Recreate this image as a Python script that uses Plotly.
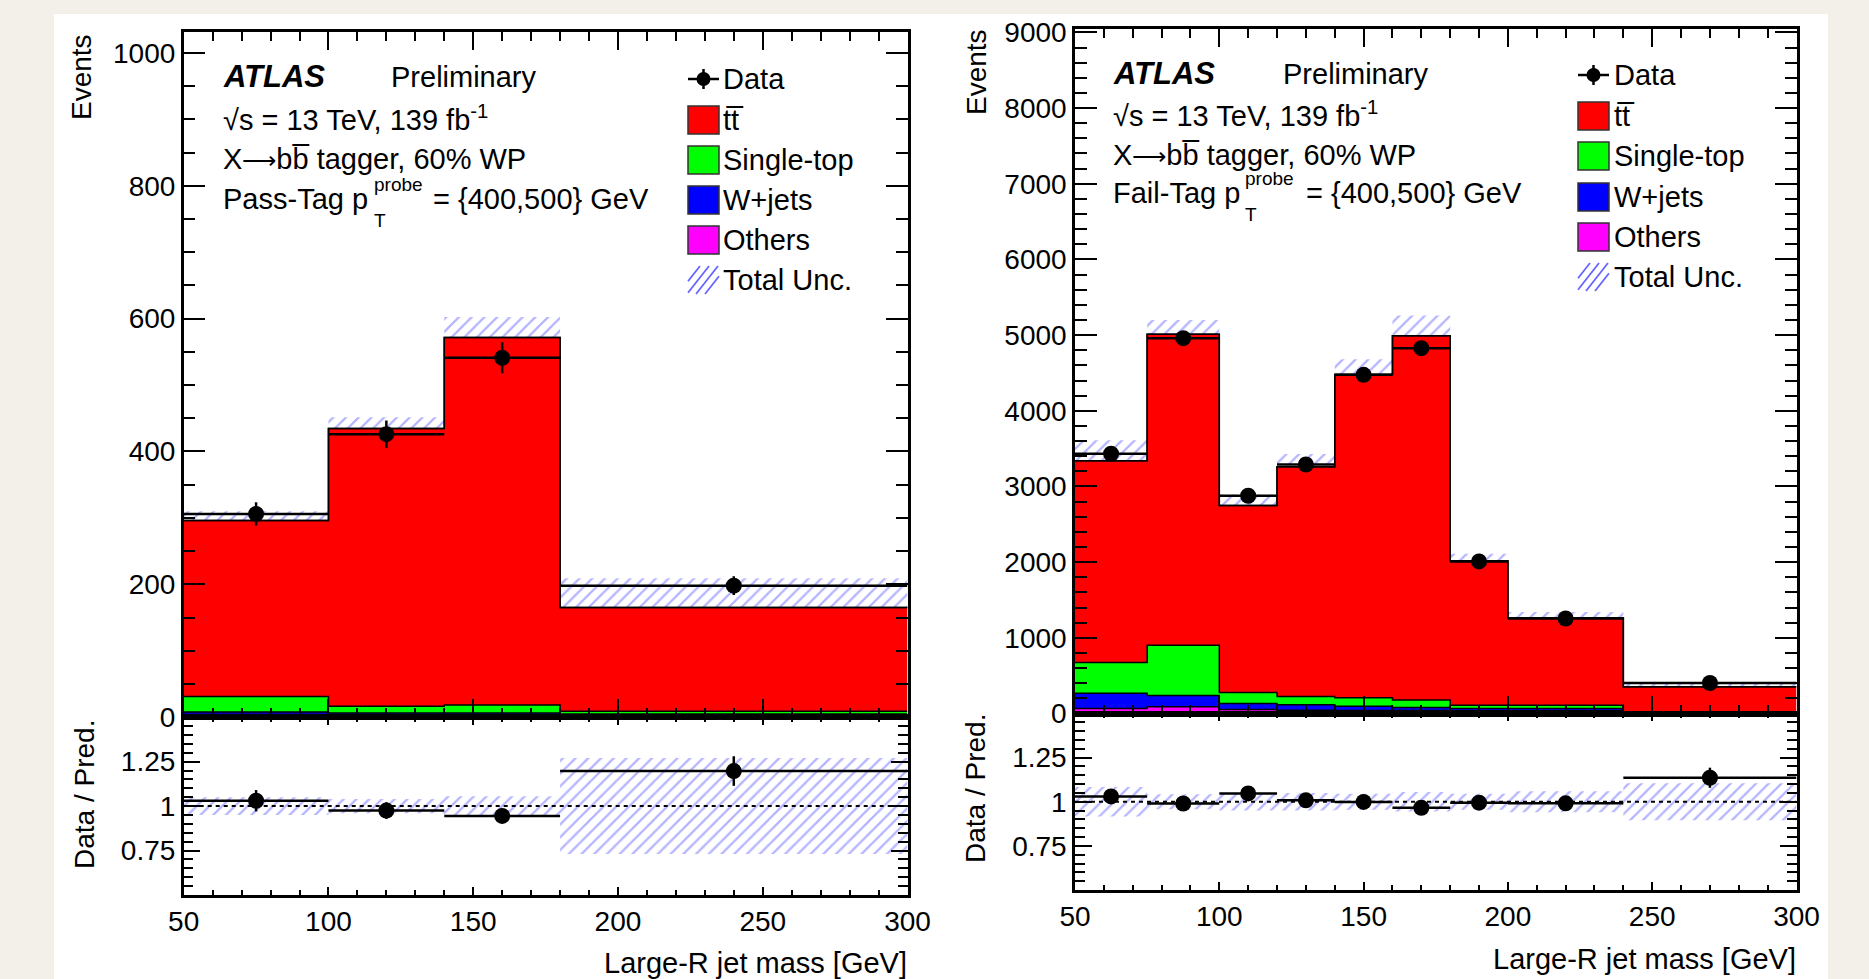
import numpy as np
import plotly.graph_objects as go

W, H = 1869, 979
FONT = "Liberation Sans, Arial, Helvetica, sans-serif"

# ---------------- Pass-Tag (left) ----------------
pass_edges = [50, 100, 140, 180, 300]
pass_ttbar = [265, 418, 553, 156]
pass_single = [23, 10, 12, 4]
pass_wjets = [4, 3.5, 3.5, 2]
pass_others = [4, 3, 3, 3]
pass_unc = [14, 17, 31, 44]
pass_data = [306, 426, 541, 198]
pass_data_err = [17.5, 20.6, 23.3, 14.1]
pass_ratio = [1.03, 0.975, 0.945, 1.197]
pass_ratio_err = [0.06, 0.047, 0.041, 0.083]
pass_ratio_unc = [0.05, 0.04, 0.055, 0.27]

# ---------------- Fail-Tag (right) ----------------
fail_edges = [50, 75, 100, 120, 140, 160, 180, 200, 240, 300]
fail_ttbar = [2666, 4107, 2473, 3035, 4273, 4810, 1910, 1155, 342]
fail_single = [405, 665, 145, 111, 110, 101, 44, 44, 4]
fail_wjets = [203, 150, 79, 70, 57, 39, 31, 31, 4]
fail_others = [66, 88, 53, 44, 40, 40, 35, 35, 5]
fail_unc = [270, 190, 143, 170, 200, 270, 90, 75, 38]
fail_data = [3432, 4960, 2877, 3290, 4475, 4827, 2010, 1255, 403]
fail_data_err = [58.6, 70.4, 53.6, 57.4, 66.9, 69.5, 44.8, 35.4, 20.1]
fail_ratio = [1.03, 0.99, 1.047, 1.008, 0.999, 0.966, 0.995, 0.991, 1.136]
fail_ratio_err = [0.018, 0.014, 0.02, 0.018, 0.015, 0.014, 0.022, 0.028, 0.057]
fail_ratio_unc = [0.083, 0.042, 0.05, 0.05, 0.045, 0.055, 0.045, 0.06, 0.105]

process_names = ["Others", "W+jets", "Single-top", "tt\u0305"]
process_colors = ["#ff00ff", "#0000ff", "#00ff00", "#ff0000"]
HATCH = "rgba(85,85,255,0.9)"
BG = "#f3f0e9"


def fx(px):
    return px / W


def fy(py):
    return 1 - py / H


fig = go.Figure()


def hatch_marker():
    return dict(color="rgba(0,0,0,0)", line=dict(width=0),
                pattern=dict(shape="/", fgcolor=HATCH, bgcolor="rgba(0,0,0,0)",
                             size=9, solidity=0.25, fillmode="overlay"))


def add_panel(edges, comps, unc, data, data_err, ratio, ratio_err, ratio_unc, xa_top, ya_top, xa_bot, ya_bot):
    edges = np.array(edges, dtype=float)
    centers = 0.5 * (edges[:-1] + edges[1:])
    widths = edges[1:] - edges[:-1]
    cum = np.cumsum(np.array(comps, dtype=float), axis=0)
    for i, (name, col) in enumerate(zip(process_names, process_colors)):
        yv = list(cum[i]) + [cum[i][-1]]
        fig.add_trace(go.Scatter(
            x=edges, y=yv, mode="lines", line=dict(color="black", width=1.5, shape="hv"),
            fill="tozeroy" if i == 0 else "tonexty", fillcolor=col,
            xaxis=xa_top, yaxis=ya_top, showlegend=False, hoverinfo="skip"))
    total = cum[-1]
    unc = np.array(unc, dtype=float)
    fig.add_trace(go.Bar(
        x=centers, y=2 * unc, base=total - unc, width=widths, marker=hatch_marker(),
        xaxis=xa_top, yaxis=ya_top, showlegend=False, hoverinfo="skip"))
    fig.add_trace(go.Scatter(
        x=edges, y=list(total) + [total[-1]], mode="lines",
        line=dict(color="black", width=1.5, shape="hv"),
        xaxis=xa_top, yaxis=ya_top, showlegend=False, hoverinfo="skip"))
    fig.add_trace(go.Scatter(
        x=centers, y=data, mode="markers",
        marker=dict(color="black", size=16, symbol="circle"),
        error_x=dict(type="data", array=widths / 2, color="black", thickness=2.5, width=0),
        error_y=dict(type="data", array=data_err, color="black", thickness=2.5, width=0),
        xaxis=xa_top, yaxis=ya_top, showlegend=False))
    ru = np.array(ratio_unc, dtype=float)
    fig.add_trace(go.Bar(
        x=centers, y=2 * ru, base=1 - ru, width=widths, marker=hatch_marker(),
        xaxis=xa_bot, yaxis=ya_bot, showlegend=False, hoverinfo="skip"))
    fig.add_trace(go.Scatter(
        x=[edges[0], edges[-1]], y=[1, 1], mode="lines",
        line=dict(color="black", width=2, dash="4px,4px"),
        xaxis=xa_bot, yaxis=ya_bot, showlegend=False, hoverinfo="skip"))
    fig.add_trace(go.Scatter(
        x=centers, y=ratio, mode="markers",
        marker=dict(color="black", size=16, symbol="circle"),
        error_x=dict(type="data", array=widths / 2, color="black", thickness=2.5, width=0),
        error_y=dict(type="data", array=ratio_err, color="black", thickness=2.5, width=0),
        xaxis=xa_bot, yaxis=ya_bot, showlegend=False))


add_panel(pass_edges, [pass_others, pass_wjets, pass_single, pass_ttbar], pass_unc, pass_data,
          pass_data_err, pass_ratio, pass_ratio_err, pass_ratio_unc, "x", "y", "x2", "y2")
add_panel(fail_edges, [fail_others, fail_wjets, fail_single, fail_ttbar], fail_unc, fail_data,
          fail_data_err, fail_ratio, fail_ratio_err, fail_ratio_unc, "x3", "y3", "x4", "y4")


def ax(domain, rng, anchor, dtick, minor_dtick, major_len, minor_len, labels=True, ratio=False):
    d = dict(domain=domain, range=rng, anchor=anchor, showline=True, linecolor="black",
             linewidth=2.5, mirror="allticks", ticks="inside", tickcolor="black", tickwidth=2,
             ticklen=major_len, showgrid=False, zeroline=False, showticklabels=labels,
             automargin=False,
             tickfont=dict(family=FONT, size=28, color="black"),
             minor=dict(ticks="inside", ticklen=minor_len, tickcolor="black", tickwidth=2,
                        dtick=minor_dtick, tick0=rng[0], showgrid=False))
    if ratio:
        d.update(tickmode="array", tickvals=[0.5, 0.75, 1, 1.25, 1.5],
                 ticktext=[" ", "0.75", "1", "1.25", " "])
    else:
        d.update(tickmode="linear", tick0=rng[0], dtick=dtick)
    return d


LX = [fx(183.7), fx(907.5)]
RX = [fx(1075), fx(1796.5)]

fig.update_layout(
    template="none",
    xaxis=ax(LX, [50, 300], "y", 50, 10, 18, 9, labels=False),
    yaxis=ax([fy(717.2), fy(32.3)], [0, 1031], "x", 200, 50, 22, 12),
    xaxis2=ax(LX, [50, 300], "y2", 50, 10, 8, 5),
    yaxis2=ax([fy(895), fy(717.2)], [0.5, 1.5], "x2", None, 0.05, 17, 10, ratio=True),
    xaxis3=ax(RX, [50, 300], "y3", 50, 10, 18, 9, labels=False),
    yaxis3=ax([fy(713.5), fy(29)], [0, 9045], "x3", 1000, 200, 22, 12),
    xaxis4=ax(RX, [50, 300], "y4", 50, 10, 8, 5),
    yaxis4=ax([fy(890), fy(713.5)], [0.5, 1.5], "x4", None, 0.05, 17, 10, ratio=True),
)

shapes = [dict(type="rect", xref="paper", yref="paper", x0=fx(54), x1=fx(1828), y0=0, y1=fy(14),
               fillcolor="white", line=dict(width=0), layer="below")]
annotations = []


def text(x, y, s, size=29, xanchor="left", yanchor="middle", angle=0):
    annotations.append(dict(xref="paper", yref="paper", x=fx(x), y=fy(y), text=s, showarrow=False,
                            xanchor=xanchor, yanchor=yanchor, textangle=angle, borderpad=0,
                            font=dict(family=FONT, size=size, color="black")))


def info_block(x0, xp, xprobe, xeq, ys, tag):
    text(x0, ys[0], "<b><i>ATLAS</i></b>", size=31)
    text(xp, ys[0], "Preliminary")
    text(x0, ys[1], "\u221as = 13 TeV, 139 fb<sup>-1</sup>")
    text(x0, ys[2], "X<span style=\"font-size:24px\">\u27f6</span>bb\u0305 tagger, 60% WP")
    text(x0, ys[3], tag + " p")
    text(xprobe, ys[3] - 15, "probe", size=19)
    text(xprobe, ys[3] + 21, "T", size=19)
    text(xeq, ys[3], "= {400,500} GeV")


def legend_block(bx0, bx1, tx, rows):
    xc = 0.5 * (bx0 + bx1)
    y = rows[0]
    shapes.append(dict(type="line", xref="paper", yref="paper", x0=fx(bx0), x1=fx(bx1), y0=fy(y), y1=fy(y),
                       line=dict(color="black", width=2.5)))
    shapes.append(dict(type="line", xref="paper", yref="paper", x0=fx(xc), x1=fx(xc), y0=fy(y - 10), y1=fy(y + 10),
                       line=dict(color="black", width=2.5)))
    shapes.append(dict(type="circle", xref="paper", yref="paper", x0=fx(xc - 7), x1=fx(xc + 7),
                       y0=fy(y + 7), y1=fy(y - 7), fillcolor="black", line=dict(width=0)))
    text(tx, y, "Data")
    names = ["tt\u0305", "Single-top", "W+jets", "Others"]
    cols = ["#ff0000", "#00ff00", "#0000ff", "#ff00ff"]
    for nm, col, y in zip(names, cols, rows[1:5]):
        shapes.append(dict(type="rect", xref="paper", yref="paper", x0=fx(bx0), x1=fx(bx1),
                           y0=fy(y + 14), y1=fy(y - 14), fillcolor=col, line=dict(color="#333333", width=1.5)))
        text(tx, y, nm)
    y = rows[5]
    top, bot = y - 14, y + 14
    for c in [bx0 - 10, bx0 - 1, bx0 + 8, bx0 + 17]:
        xa, ya, xb, yb = c, bot, c + 22, top
        slope = (yb - ya) / (xb - xa)
        if xa < bx0:
            ya = ya + slope * (bx0 - xa)
            xa = bx0
        if xb > bx1:
            yb = yb - slope * (xb - bx1)
            xb = bx1
        if xb > xa:
            shapes.append(dict(type="line", xref="paper", yref="paper", x0=fx(xa), x1=fx(xb),
                               y0=fy(ya), y1=fy(yb), line=dict(color=HATCH, width=1.8)))
    text(tx, y, "Total Unc.")


info_block(222, 390, 373, 432, [77, 118, 159, 199], "Pass-Tag")
info_block(1112, 1282, 1244, 1305, [74, 114, 155, 193], "Fail-Tag")
legend_block(688, 719, 722, [79, 120, 160, 200, 240, 280])
legend_block(1578, 1609, 1613, [75, 116, 156, 197, 237, 277])

text(82, 33, "Events", size=28, xanchor="center", yanchor="top", angle=-90)
text(84, 795, "Data / Pred.", size=28, xanchor="center", yanchor="middle", angle=-90)
text(976, 28, "Events", size=28, xanchor="center", yanchor="top", angle=-90)
text(975, 789, "Data / Pred.", size=28, xanchor="center", yanchor="middle", angle=-90)
text(907.5, 963, "Large-R jet mass [GeV]", size=29, xanchor="right")
text(1797, 959, "Large-R jet mass [GeV]", size=29, xanchor="right")

fig.update_layout(
    width=W, height=H, margin=dict(l=0, r=0, t=0, b=0, pad=0, autoexpand=False),
    paper_bgcolor=BG, plot_bgcolor="white", barmode="overlay",
    showlegend=False, shapes=shapes, annotations=annotations,
    font=dict(family=FONT, color="black"),
)

post = ("document.body.style.margin='0';document.body.style.padding='0';"
        "document.body.style.overflow='hidden';document.body.style.background='" + BG + "';")
fig.write_html("out.html", post_script=post, config={"displayModeBar": False})
